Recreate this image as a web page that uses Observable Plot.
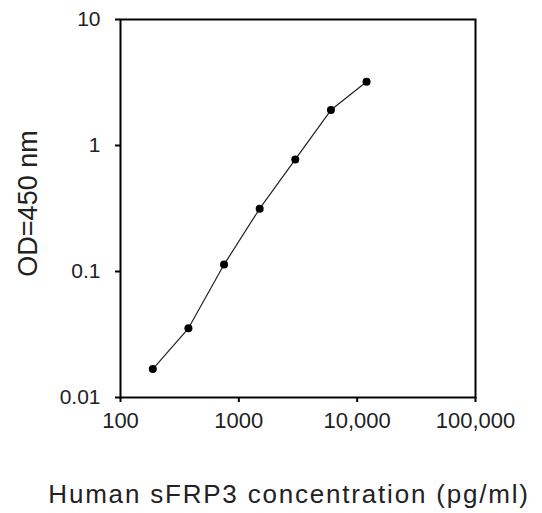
<!DOCTYPE html>
<html>
<head>
<meta charset="utf-8">
<script src="https://cdn.jsdelivr.net/npm/d3@7"></script>
<script src="https://cdn.jsdelivr.net/npm/@observablehq/plot@0.6"></script>
<style>
  html, body { margin: 0; padding: 0; background: #fff; }
</style>
</head>
<body>
<div id="chart"></div>
<script>
const concentration = [187.5, 375, 750, 1500, 3000, 6000, 12000];
const od = [0.0168, 0.0354, 0.1135, 0.315, 0.776, 1.91, 3.21];
const xTicks = [100, 1000, 10000, 100000];
const xTickLabels = ["100", "1000", "10,000", "100,000"];
const yTicks = [0.01, 0.1, 1, 10];
const yTickLabels = ["0.01", "0.1", "1", "10"];
const xLabel = "Human sFRP3 concentration (pg/ml)";
const yLabel = "OD=450 nm";

const data = concentration.map((c, i) => ({x: c, y: od[i]}));
const fmt = (ticks, labels) => d => {
  let best = 0;
  ticks.forEach((t, i) => { if (Math.abs(Math.log10(t) - Math.log10(d)) < Math.abs(Math.log10(ticks[best]) - Math.log10(d))) best = i; });
  return labels[best];
};

const chart = Plot.plot({
  width: 542,
  height: 513,
  marginLeft: 120,
  marginRight: 67,
  marginTop: 19,
  marginBottom: 116,
  style: {fontFamily: "'Liberation Sans', Arial, sans-serif", color: "#222", background: "#fff"},
  x: {type: "log", domain: [100, 100000]},
  y: {type: "log", domain: [0.01, 10]},
  marks: [
    Plot.frame({stroke: "#000", strokeWidth: 2}),
    Plot.axisX({ticks: xTicks, tickFormat: fmt(xTicks, xTickLabels), tickSize: 5, tickPadding: 10, fontSize: 22, label: null, strokeWidth: 2, stroke: "#000"}),
    Plot.axisY({ticks: yTicks, tickFormat: fmt(yTicks, yTickLabels), tickSize: 5, tickPadding: 15, fontSize: 21, label: null, strokeWidth: 2, stroke: "#000"}),
    Plot.line(data, {x: "x", y: "y", stroke: "#222", strokeWidth: 1.2}),
    Plot.dot(data, {x: "x", y: "y", r: 4, fill: "#000", stroke: "none"}),
    Plot.text([xLabel], {text: d => d, frameAnchor: "bottom", dy: 97, dx: -9, fontSize: 26, fill: "#222", lineAnchor: "middle", textAnchor: "middle"}),
    Plot.text([yLabel], {text: d => d, frameAnchor: "left", dx: -92, dy: -5, rotate: -90, fontSize: 27, fill: "#222", lineAnchor: "middle", textAnchor: "middle"})
  ]
});
chart.querySelectorAll("text").forEach(t => {
  if (t.textContent === xLabel) t.setAttribute("letter-spacing", "1.8");
});
document.getElementById("chart").appendChild(chart);
</script>
</body>
</html>
